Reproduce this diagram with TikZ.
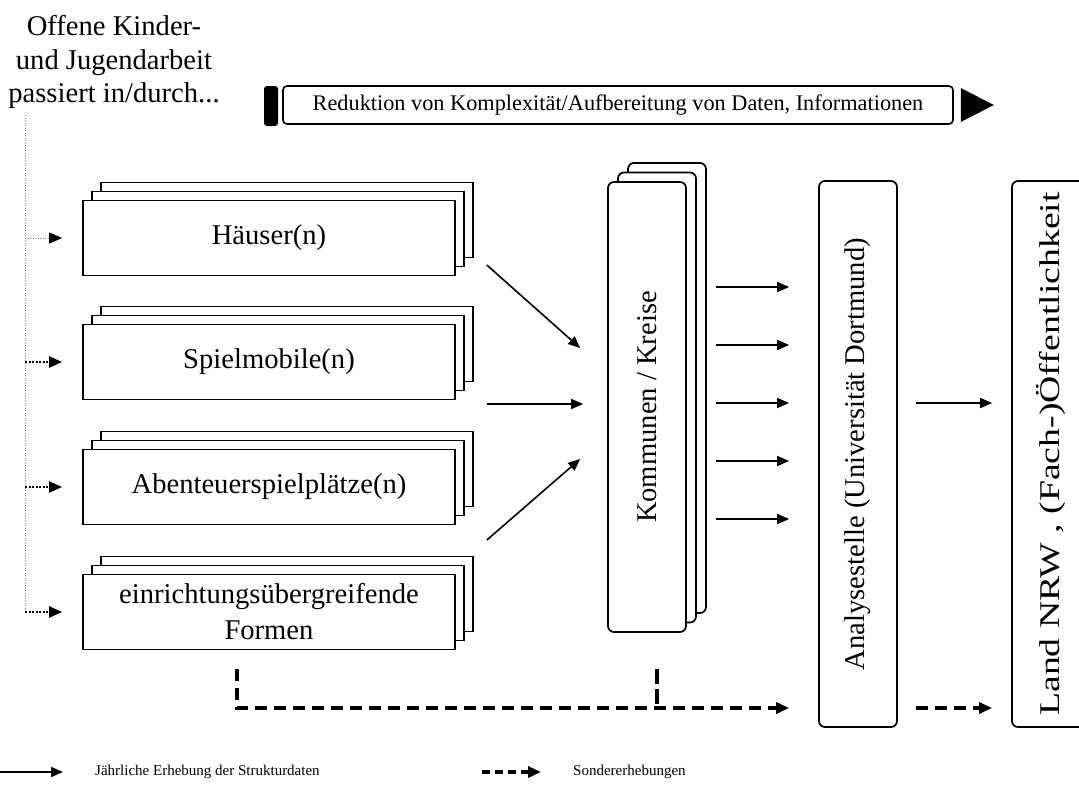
\documentclass[tikz,border=0pt]{standalone}
\usepackage{fontspec}
\setmainfont{Liberation Serif}
\usetikzlibrary{arrows.meta}

\tikzset{stackbox/.style={draw,fill=white,line width=1.7pt,minimum width=372pt,minimum height=75pt,
    inner sep=0pt,align=center,font=\fontsize{28.6}{36}\selectfont,
    preaction={draw,fill=white,transform canvas={shift={(18pt,18pt)}}},
    preaction={draw,fill=white,transform canvas={shift={(9pt,9pt)}}}}}
\tikzset{kommbox/.style={draw,fill=white,line width=1.7pt,rounded corners=6pt,minimum width=78pt,minimum height=450pt,
    inner sep=0pt,font=\fontsize{28.6}{34}\selectfont,
    preaction={draw,fill=white,transform canvas={shift={(20pt,19pt)}}},
    preaction={draw,fill=white,transform canvas={shift={(10pt,9.5pt)}}}}}
\tikzset{tallbox/.style={draw,line width=1.7pt,rounded corners=6pt,minimum width=78pt,minimum height=546pt,
    inner sep=0pt,font=\fontsize{28.6}{34}\selectfont}}
\tikzset{flow/.style={-{Triangle[length=12pt,width=10pt]},line width=1.6pt}}
\tikzset{sonder/.style={-{Triangle[length=13pt,width=11pt]},line width=3.2pt,dash pattern=on 12pt off 7pt}}
\tikzset{guide/.style={gray,line width=0.7pt,dash pattern=on 1pt off 1.5pt}}
\tikzset{feed/.style={-{Triangle[length=13pt,width=11pt]},line width=2.4pt,dash pattern=on 2pt off 1.5pt}}

\begin{document}
\begin{tikzpicture}[x=1pt,y=-1pt]
    \useasboundingbox (0,0) rectangle (1079,807);
    % Ausgangspunkt links oben
    \node[align=center,inner sep=0pt,font=\fontsize{28.6}{33.5}\selectfont] (intro) at (114,62)
        {Offene Kinder-\\und Jugendarbeit\\passiert in/durch...};
    % Band oben
    \node[fill=black,rounded corners=3pt,minimum width=14pt,minimum height=40pt,inner sep=0pt] (tail) at (271,106) {};
    \node[draw,line width=1.6pt,rounded corners=4pt,minimum width=670pt,minimum height=38pt,inner sep=0pt,
        font=\fontsize{22.3}{26}\selectfont] (reduk) at (618,105)
        {Reduktion von Komplexität/Aufbereitung von Daten, Informationen};
    \fill ([xshift=7]reduk.east) ++(0,-17) -- ++(33,17) -- ++(-33,17) -- cycle;
    % Einrichtungen
    \node[stackbox] (haeuser) at (269,238) {Häuser(n)};
    \node[stackbox] (spielmobile) at (269,362) {Spielmobile(n)};
    \node[stackbox] (abenteuer) at (269,487) {Abenteuerspielplätze(n)};
    \node[stackbox] (formen) at (269,612) {einrichtungsübergreifende\\Formen};
    % Ebenen
    \node[kommbox] (kommunen) at (647,407) {\rotatebox{90}{Kommunen / Kreise}};
    \node[tallbox] (analyse) at (858,454) {\rotatebox{90}{Analysestelle (Universität Dortmund)}};
    \node[tallbox] (land) at (1051,454)
        {\rotatebox{90}{\scalebox{1.32}[1]{Land NRW , (Fach-)Öffentlichkeit}}};
    % linke Zufuehrung
    \coordinate (spine) at (25,115);
    \draw[guide] (spine) -- (spine |- formen.west);
    \draw[guide,-{Triangle[length=13pt,width=11pt,black]}] (spine |- haeuser.west) -- ([xshift=-20]haeuser.west);
    \foreach \n in {spielmobile,abenteuer,formen}
        \draw[feed] (spine |- \n.west) -- ([xshift=-20]\n.west);
    % jaehrliche Erhebung
    \draw[flow] ([shift={(31,27)}]haeuser.east) -- ([shift={(-27,-59)}]kommunen.west);
    \draw[flow] ([shift={(31,42)}]spielmobile.east) -- ([shift={(-24,-3)}]kommunen.west);
    \draw[flow] ([shift={(31,53)}]abenteuer.east) -- ([shift={(-27,52)}]kommunen.west);
    \foreach \dy in {-120,-62,-4,54,112}
        \draw[flow] ([shift={(29,\dy)}]kommunen.east) -- ([shift={(-29,\dy-47)}]analyse.west);
    \draw[flow] ([shift={(18,-51)}]analyse.east) -- ([shift={(-19,-51)}]land.west);
    % Sondererhebungen
    \draw[sonder] ([shift={(-32,19)}]formen.south) |- ([shift={(-29,254)}]analyse.west);
    \draw[line width=4.5pt,dash pattern=on 15pt off 5pt] ([shift={(10,36)}]kommunen.south) -- ++(0,40);
    \draw[sonder] ([shift={(18,254)}]analyse.east) -- ([shift={(-19,254)}]land.west);
    % Legende
    \node[anchor=west,inner sep=0pt,font=\fontsize{15}{18}\selectfont] (legjahr) at (95,772)
        {Jährliche Erhebung der Strukturdaten};
    \draw[flow] ([xshift=-95]legjahr.west) -- ([xshift=-32]legjahr.west);
    \node[anchor=west,inner sep=0pt,font=\fontsize{15}{18}\selectfont] (legsonder) at (573,772)
        {Sondererhebungen};
    \draw[sonder,dash pattern=on 8pt off 5pt] ([xshift=-91]legsonder.west) -- ([xshift=-32]legsonder.west);
\end{tikzpicture}
\end{document}
